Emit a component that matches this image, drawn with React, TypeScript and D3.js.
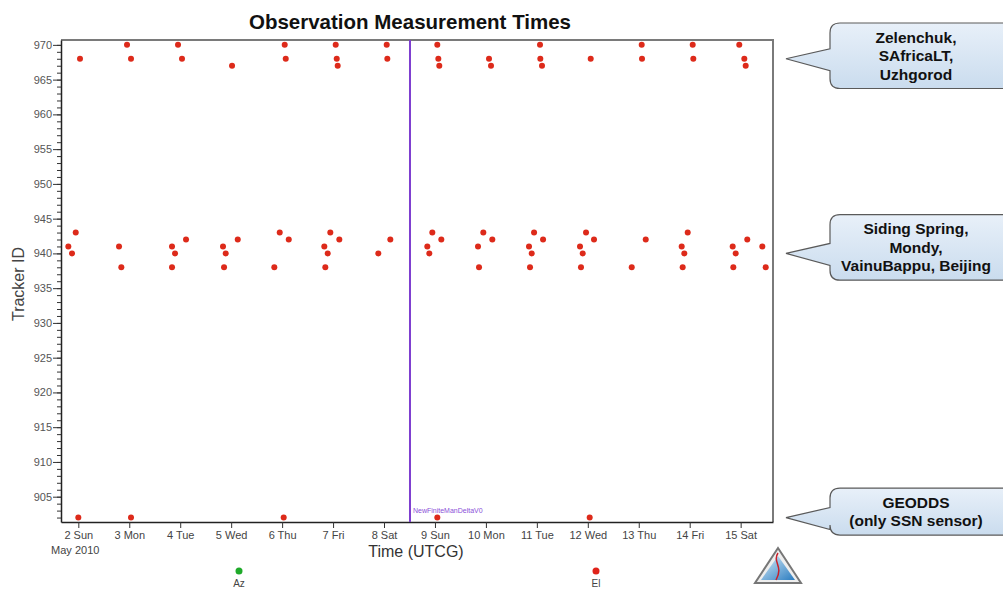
import React, { useEffect, useRef } from "react";
import * as d3 from "d3";

// observation times as fractional day of May 2010 (UTC), tracker id
const topDays = [2.033, 2.956, 3.034, 3.957, 4.035, 5.017, 6.051, 6.071, 7.052, 7.072, 7.091, 8.053, 8.065,
  9.046, 9.066, 9.085, 10.061, 10.1, 11.062, 11.068, 11.101, 12.057, 13.058, 13.064, 14.059, 14.071, 14.973, 15.072, 15.099];
const topIds = [968, 970, 968, 970, 968, 967, 970, 968, 970, 968, 967, 970, 968,
  970, 968, 967, 968, 967, 970, 968, 967, 968, 970, 968, 970, 968, 970, 968, 967];

const midDays = [1.804, 1.876, 1.949, 2.799, 2.844, 3.839, 3.898, 3.839, 4.114, 4.84, 4.893, 4.86, 5.129,
  5.847, 5.953, 6.13, 6.828, 6.895, 6.848, 6.946, 7.123, 7.888, 8.124,
  8.85, 8.889, 8.948, 9.125, 9.845, 9.865, 9.949, 10.126, 10.846, 10.899, 10.866, 10.945, 11.122,
  11.847, 11.9, 11.866, 11.965, 12.122, 12.862, 13.137, 13.843, 13.894, 13.862, 13.961,
  14.844, 14.903, 14.856, 15.13, 15.425, 15.492];
const midIds = [941, 940, 943, 941, 938, 941, 940, 938, 942, 941, 940, 938, 942,
  938, 943, 942, 941, 940, 938, 943, 942, 940, 942,
  941, 940, 943, 942, 941, 938, 943, 942, 941, 940, 938, 943, 942,
  941, 940, 938, 943, 942, 938, 942, 941, 940, 938, 943,
  941, 940, 938, 942, 941, 938];

const geoDays = [2.0, 3.034, 6.031, 9.046, 12.037];
const geoIds = [902, 902, 902, 902, 902];

const maneuverDay = 8.51;
const maneuverName = "NewFiniteManDeltaV0";

const callouts = [
  { lines: ["Zelenchuk,", "SAfricaLT,", "Uzhgorod"], id: 968 },
  { lines: ["Siding Spring,", "Mondy,", "VainuBappu, Beijing"], id: 940 },
  { lines: ["GEODDS", "(only SSN sensor)"], id: 902 },
];

const legendItems = [
  { label: "Az", color: "#1faa2a" },
  { label: "El", color: "#e0231a" },
];

const toDate = (d: number) => new Date(Date.UTC(2010, 4, 1) + (d - 1) * 864e5);

export default function App() {
  const ref = useRef<SVGSVGElement>(null);

  useEffect(() => {
    const svg = d3.select(ref.current);
    svg.selectAll("*").remove();

    const width = 1003;
    const height = 590;
    const font = "'Liberation Sans', Arial, sans-serif";
    const left = 61, right = 773, top = 40, bottom = 522;

    svg.attr("width", width).attr("height", height).style("background", "#fff");

    const x = d3.scaleUtc()
      .domain([toDate(1.66), toDate(15.635)])
      .range([left, right]);

    const y = d3.scaleLinear()
      .domain([901.36, 970.7])
      .range([bottom, top]);

    // title
    svg.append("text")
      .attr("x", 410).attr("y", 29)
      .attr("text-anchor", "middle")
      .style("font", `bold 20.5px ${font}`)
      .attr("fill", "#111")
      .text("Observation Measurement Times");

    // frame (top/right gray)
    svg.append("path")
      .attr("d", `M${left},${top}H${right}V${bottom}`)
      .attr("fill", "none")
      .attr("stroke", "#7a7a7a")
      .attr("stroke-width", 2);

    // Y axis minor ticks
    svg.append("g")
      .attr("transform", `translate(${left},0)`)
      .call(d3.axisLeft(y).tickValues(d3.range(902, 971)).tickSize(4).tickFormat(() => ""))
      .call(g => g.select(".domain").remove())
      .selectAll("line").attr("stroke", "#333");

    // Y axis major
    const ya = svg.append("g")
      .attr("transform", `translate(${left},0)`)
      .call(d3.axisLeft(y).tickValues(d3.range(905, 971, 5)).tickSize(8).tickSizeOuter(0));
    ya.select(".domain").attr("stroke", "#222").attr("stroke-width", 1.5);
    ya.selectAll("line").attr("stroke", "#333");
    ya.selectAll("text")
      .style("font", `11px ${font}`)
      .attr("fill", "#555")
      .attr("x", -9);

    svg.append("text")
      .attr("transform", `translate(24,284) rotate(-90)`)
      .attr("text-anchor", "middle")
      .style("font", `16px ${font}`)
      .attr("fill", "#444")
      .text("Tracker ID");

    // X axis
    const xa = svg.append("g")
      .attr("transform", `translate(0,${bottom})`)
      .call(d3.axisBottom(x).ticks(d3.utcDay.every(1)).tickFormat(d3.utcFormat("%-d %a") as any).tickSize(6).tickSizeOuter(0));
    xa.select(".domain").attr("stroke", "#222").attr("stroke-width", 1.5);
    xa.selectAll("line").attr("stroke", "#333");
    xa.selectAll("text")
      .style("font", `11px ${font}`)
      .attr("fill", "#444")
      .attr("y", 9);

    svg.append("text")
      .attr("x", x(toDate(1.94))).attr("y", 554)
      .attr("text-anchor", "middle")
      .style("font", `11px ${font}`)
      .attr("fill", "#444")
      .text("May 2010");

    svg.append("text")
      .attr("x", 416).attr("y", 557)
      .attr("text-anchor", "middle")
      .style("font", `16px ${font}`)
      .attr("fill", "#333")
      .text("Time (UTCG)");

    // maneuver line
    const mx = x(toDate(maneuverDay));
    svg.append("line")
      .attr("x1", mx).attr("x2", mx)
      .attr("y1", top).attr("y2", bottom)
      .attr("stroke", "#7e3fd0")
      .attr("stroke-width", 2);
    svg.append("text")
      .attr("x", mx + 3).attr("y", bottom - 9)
      .style("font", `7px ${font}`)
      .attr("fill", "#8a4fd8")
      .text(maneuverName);

    // points
    const points = [
      ...topDays.map((d, i) => ({ t: toDate(d), id: topIds[i] })),
      ...midDays.map((d, i) => ({ t: toDate(d), id: midIds[i] })),
      ...geoDays.map((d, i) => ({ t: toDate(d), id: geoIds[i] })),
    ];
    svg.append("g")
      .selectAll("circle")
      .data(points)
      .enter()
      .append("circle")
      .attr("cx", d => x(d.t))
      .attr("cy", d => y(d.id))
      .attr("r", 3)
      .attr("fill", "#dd2a1a");

    // legend
    const lx = d3.scalePoint().domain(legendItems.map(d => d.label)).range([239, 596]);
    const lg = svg.append("g");
    lg.selectAll("circle")
      .data(legendItems)
      .enter()
      .append("circle")
      .attr("cx", d => lx(d.label)!)
      .attr("cy", 571)
      .attr("r", 3.5)
      .attr("fill", d => d.color);
    lg.selectAll("text")
      .data(legendItems)
      .enter()
      .append("text")
      .attr("x", d => lx(d.label)!)
      .attr("y", 587)
      .attr("text-anchor", "middle")
      .style("font", `10px ${font}`)
      .attr("fill", "#444")
      .text(d => d.label);

    // callouts
    const defs = svg.append("defs");
    const grad = defs.append("linearGradient")
      .attr("id", "bubble").attr("x1", 0).attr("y1", 0).attr("x2", 0).attr("y2", 1);
    grad.append("stop").attr("offset", "0%").attr("stop-color", "#e8f0f9");
    grad.append("stop").attr("offset", "100%").attr("stop-color", "#cadcee");

    const boxX0 = 830, boxX1 = 1010, tipX = 786, r = 10, lineH = 18.5;
    callouts.forEach(c => {
      const tipY = y(c.id);
      const h = c.lines.length * lineH + 10;
      const y0 = Math.max(top - 17, tipY - h / 2 - 6);
      const y1 = y0 + h;
      const b0 = tipY - 10, b1 = tipY + 12;
      const p = `M${boxX0 + r},${y0}H${boxX1}V${y1}H${boxX0 + r}` +
        `Q${boxX0},${y1} ${boxX0},${y1 - r}V${b1}L${tipX},${tipY}L${boxX0},${b0}V${y0 + r}` +
        `Q${boxX0},${y0} ${boxX0 + r},${y0}Z`;
      svg.append("path")
        .attr("d", p)
        .attr("fill", "url(#bubble)")
        .attr("stroke", "#5a5a5a")
        .attr("stroke-width", 1.2);
      const cy0 = (y0 + y1) / 2 - ((c.lines.length - 1) * lineH) / 2;
      c.lines.forEach((ln, i) => {
        svg.append("text")
          .attr("x", 916).attr("y", cy0 + i * lineH)
          .attr("dy", "0.35em")
          .attr("text-anchor", "middle")
          .style("font", `bold 15.5px ${font}`)
          .attr("fill", "#111")
          .text(ln);
      });
    });

    // logo
    const lgd = defs.append("linearGradient")
      .attr("id", "logo").attr("x1", 0).attr("y1", 0).attr("x2", 1).attr("y2", 1);
    lgd.append("stop").attr("offset", "0%").attr("stop-color", "#d8ecf8");
    lgd.append("stop").attr("offset", "100%").attr("stop-color", "#2a7cc0");
    svg.append("path")
      .attr("d", "M778,548L801,583H755Z")
      .attr("fill", "#eee")
      .attr("stroke", "#777")
      .attr("stroke-width", 2);
    svg.append("path")
      .attr("d", "M778,556L795,580H761Z")
      .attr("fill", "url(#logo)");
    svg.append("path")
      .attr("d", "M778,553C772,562 784,566 776,580")
      .attr("fill", "none")
      .attr("stroke", "#c8202a")
      .attr("stroke-width", 1.5);
  }, []);

  return (
    <div style={{ position: "absolute", left: 0, top: 0 }}>
      <svg ref={ref}></svg>
    </div>
  );
}
